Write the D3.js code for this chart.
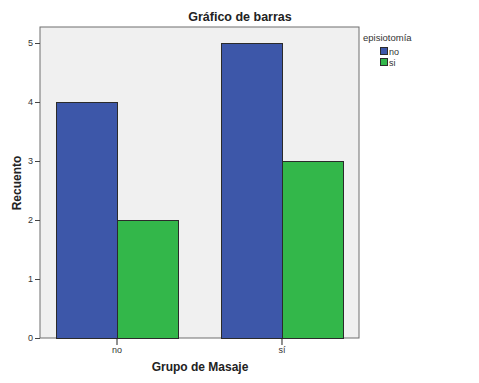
<!DOCTYPE html>
<html><head><meta charset="utf-8">
<script src="https://cdn.jsdelivr.net/npm/d3@7"></script>
<style>body{margin:0;background:#fff;}svg{display:block;font-family:Arial,"Liberation Sans",sans-serif;}</style>
</head><body>
<svg id="c" width="479" height="383"></svg>
<script>
const categories = ["no", "sí"];
const seriesNames = ["no", "si"];
const seriesNo = [4, 5];
const seriesSi = [2, 3];
const yTicks = [0, 1, 2, 3, 4, 5];
const colors = ["#3d57a9", "#33b74a"];

const svg = d3.select("#c");
const L = 40, R = 359, T = 27, B = 338;
const x = d3.scaleBand().domain(categories).range([L, R]).paddingInner(0.2606).paddingOuter(0.097);
const xs = d3.scaleBand().domain(seriesNames).range([0, x.bandwidth()]);
const y = d3.scaleLinear().domain([0, 5]).range([B, 43]);

svg.append("rect").attr("x", L).attr("y", T).attr("width", R - L).attr("height", B - T)
  .attr("fill", "#f0f0f0").attr("stroke", "#6e6e6e").attr("stroke-width", 1);

const data = categories.map((c, i) => ({c, vals: [seriesNo[i], seriesSi[i]]}));
const g = svg.append("g");
data.forEach(d => {
  d.vals.forEach((v, j) => {
    g.append("rect")
      .attr("x", x(d.c) + xs(seriesNames[j]) + 0.5)
      .attr("y", y(v) + 0.5)
      .attr("width", xs.bandwidth())
      .attr("height", y(0) - y(v))
      .attr("fill", colors[j]).attr("stroke", "#2b2b2b").attr("stroke-width", 1);
  });
});

// y axis
const ya = svg.append("g").attr("transform", `translate(${L},0)`)
  .call(d3.axisLeft(y).tickValues(yTicks).tickFormat(d3.format("d")).tickSize(5).tickPadding(2));
ya.select(".domain").remove();
ya.selectAll("line").attr("stroke", "#444");
ya.selectAll("text").attr("font-size", 9).attr("fill", "#333").attr("font-family", "Arial,sans-serif");

// x axis
const xa = svg.append("g").attr("transform", `translate(0,${B})`)
  .call(d3.axisBottom(x).tickSize(7).tickPadding(2).tickSizeOuter(0));
xa.select(".domain").remove();
xa.selectAll("line").attr("stroke", "#222");
xa.selectAll("text").attr("font-size", 9).attr("fill", "#333").attr("font-family", "Arial,sans-serif");

// title
svg.append("text").attr("x", 240).attr("y", 21).attr("text-anchor", "middle")
  .attr("font-size", 12.5).attr("font-weight", "bold").attr("fill", "#222").text("Gráfico de barras");
svg.append("text").attr("transform", "translate(21,183) rotate(-90)").attr("text-anchor", "middle")
  .attr("font-size", 12).attr("font-weight", "bold").attr("fill", "#222").text("Recuento");
svg.append("text").attr("x", 200).attr("y", 371).attr("text-anchor", "middle")
  .attr("font-size", 12).attr("font-weight", "bold").attr("fill", "#222").text("Grupo de Masaje");

// legend
const lg = svg.append("g");
lg.append("text").attr("x", 363).attr("y", 41).attr("font-size", 9.5).attr("fill", "#333").text("episiotomía");
seriesNames.forEach((s, i) => {
  lg.append("rect").attr("x", 380.5).attr("y", 47.5 + i * 11).attr("width", 7).attr("height", 7)
    .attr("fill", colors[i]).attr("stroke", "#2b2b2b").attr("stroke-width", 1);
  lg.append("text").attr("x", 389).attr("y", 54.5 + i * 11).attr("font-size", 9).attr("fill", "#333").text(s);
});
</script>
</body></html>
